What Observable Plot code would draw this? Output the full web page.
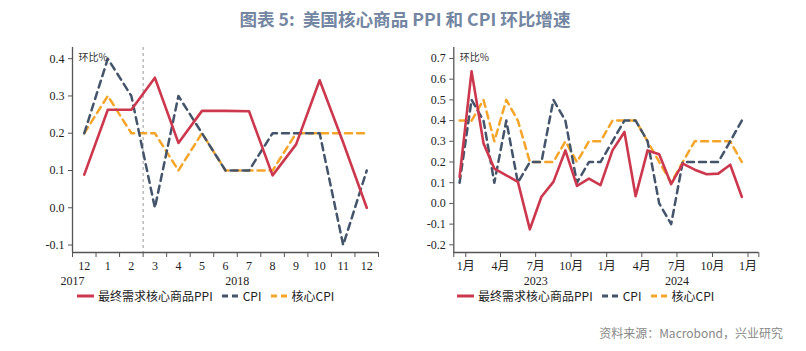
<!DOCTYPE html>
<html><head><meta charset="utf-8">
<script src="https://cdn.jsdelivr.net/npm/d3@7"></script>
<script src="https://cdn.jsdelivr.net/npm/@observablehq/plot@0.6"></script>
<style>
body{margin:0;background:#fff;}
#wrap{position:relative;width:806px;height:351px;overflow:hidden;font-family:"Noto Sans CJK SC",sans-serif;}
#title{position:absolute;left:2px;top:6px;width:806px;text-align:center;font-size:17.6px;font-weight:bold;color:#7386a2;}
.chart{position:absolute;top:0;}
.legend{position:absolute;top:289px;height:14px;line-height:14px;font-size:12px;display:flex;align-items:center;color:#222;white-space:nowrap;}
.legend svg{margin-right:4px;}
.legend span{margin-right:9px;}
#source{position:absolute;right:23px;top:324px;font-size:12px;color:#888;}
</style></head>
<body>
<div id="wrap">
  <div id="title">图表 5:&nbsp; 美国核心商品 PPI 和 CPI 环比增速</div>
  <div id="left" class="chart" style="left:0"></div>
  <div id="right" class="chart" style="left:400px"></div>
  <div id="legL" class="legend" style="left:77px"></div>
  <div id="legR" class="legend" style="left:457px"></div>
  <div id="source">资料来源：Macrobond，兴业研究</div>
</div>
<script>
// ---- Left panel data (Dec 2017 - Dec 2018) ----
const leftMonths = ["12","1","2","3","4","5","6","7","8","9","10","11","12"];
const leftYears = ["2017","2018","2018","2018","2018","2018","2018","2018","2018","2018","2018","2018","2018"];
const leftPPI  = [0.089,0.263,0.263,0.349,0.174,0.26,0.26,0.259,0.087,0.17,0.342,0.175,0.0];
const leftCPI  = [0.2,0.4,0.3,0.0,0.3,0.2,0.1,0.1,0.2,0.2,0.2,-0.1,0.1];
const leftCore = [0.2,0.3,0.2,0.2,0.1,0.2,0.1,0.1,0.1,0.2,0.2,0.2,0.2];
const leftYTicks = [-0.1,0.0,0.1,0.2,0.3,0.4];

// ---- Right panel data (Dec 2022 - Dec 2024) ----
const rightMonths = ["2022-12","2023-01","2023-02","2023-03","2023-04","2023-05","2023-06","2023-07","2023-08","2023-09","2023-10","2023-11","2023-12",
  "2024-01","2024-02","2024-03","2024-04","2024-05","2024-06","2024-07","2024-08","2024-09","2024-10","2024-11","2024-12"];
const rightPPI  = [0.128,0.638,0.29,0.168,0.136,0.104,-0.125,0.032,0.104,0.256,0.085,0.12,0.088,0.256,0.345,0.035,0.256,0.237,0.093,0.192,0.163,0.141,0.144,0.187,0.032];
const rightCPI  = [0.1,0.5,0.4,0.1,0.4,0.1,0.2,0.2,0.5,0.4,0.1,0.2,0.2,0.3,0.4,0.4,0.3,0.0,-0.1,0.2,0.2,0.2,0.2,0.3,0.4];
const rightCore = [0.4,0.4,0.5,0.3,0.5,0.4,0.2,0.2,0.2,0.3,0.2,0.3,0.3,0.4,0.4,0.4,0.3,0.2,0.1,0.2,0.3,0.3,0.3,0.3,0.2];
const rightXTicks = ["2023-01","2023-04","2023-07","2023-10","2024-01","2024-04","2024-07","2024-10","2025-01"];
const rightYearLabels = [["2023","2023-07"],["2024","2024-07"]];
const rightYTicks = [-0.2,-0.1,0.0,0.1,0.2,0.3,0.4,0.5,0.6,0.7];

const seriesNames = ["最终需求核心商品PPI","CPI","核心CPI"];
const colors = {ppi:"#cc384e", cpi:"#44546a", core:"#f5a52a"};
const axisColor = "#555";
const serif = "'Liberation Serif','Noto Sans CJK SC',serif";
const fmt = d => d.toFixed(1);

// ---------- Left chart ----------
{
  const idx = leftMonths.map((_, i) => i);
  const rows = k => idx.map(i => ({x: i, y: k[i]}));
  const bounds = [-0.5, ...idx.map(i => i + 0.5)];
  const years = [...new Set(leftYears)];
  const yearPos = years.map(y => {
    const ii = idx.filter(i => leftYears[i] === y);
    return ii.length > 1 ? (ii[0] + ii[ii.length-1]) / 2 : ii[0] - 0.5;
  });
  const splitAt = 2.5; // divider between Feb and Mar 2018
  const chart = Plot.plot({
    width: 400, height: 300,
    marginLeft: 72, marginRight: 22, marginTop: 47, marginBottom: 48,
    style: {fontFamily: serif, fontSize: "12px", color: "#222", background: "transparent"},
    x: {type: "linear", domain: [-0.5, 12.5], label: null},
    y: {domain: [-0.12, 0.43], label: null},
    marks: [
      Plot.ruleX([splitAt], {stroke: "#999", strokeDasharray: "3,3", strokeWidth: 1}),
      Plot.line(rows(leftCore), {x: "x", y: "y", stroke: colors.core, strokeWidth: 2.5, strokeDasharray: "7,5"}),
      Plot.line(rows(leftCPI), {x: "x", y: "y", stroke: colors.cpi, strokeWidth: 2.5, strokeDasharray: "7,5"}),
      Plot.line(rows(leftPPI), {x: "x", y: "y", stroke: colors.ppi, strokeWidth: 2.6}),
      Plot.ruleX([-0.5], {stroke: axisColor, strokeWidth: 1.3}),
      Plot.ruleY([-0.12], {stroke: axisColor, strokeWidth: 1.3}),
      Plot.axisY({ticks: leftYTicks, tickSize: 4, tickPadding: 4, tickFormat: fmt, stroke: axisColor, label: null}),
      Plot.axisX({ticks: bounds, tickSize: 5, tickFormat: () => "", stroke: axisColor, label: null}),
      Plot.axisX({ticks: idx, tickSize: 0, tickPadding: 9, tickFormat: i => leftMonths[i], label: null}),
      Plot.axisX({ticks: yearPos, tickSize: 0, tickPadding: 24, tickFormat: (d, i) => years[i], label: null}),
      Plot.text(["环比%"], {x: -0.5, y: 0.43, dx: 6, dy: 10, text: d => d, textAnchor: "start", fontSize: 10, fontFamily: "'Noto Sans CJK SC',sans-serif", fill: "#333"})
    ]
  });
  document.getElementById("left").appendChild(chart);
}

// ---------- Right chart ----------
{
  const parse = s => { const [y, m] = s.split("-").map(Number); return new Date(Date.UTC(y, m - 1, 16)); };
  const parseStart = s => { const [y, m] = s.split("-").map(Number); return new Date(Date.UTC(y, m - 1, 1)); };
  const rows = k => rightMonths.map((m, i) => ({x: parse(m), y: k[i]}));
  const tickDates = rightXTicks.map(parseStart);
  const domain = [parseStart(rightMonths[0]), new Date(Date.UTC(2025, 0, 29))];
  const chart = Plot.plot({
    width: 406, height: 300,
    marginLeft: 53.3, marginRight: 47.7, marginTop: 47, marginBottom: 48,
    style: {fontFamily: serif, fontSize: "12px", color: "#222", background: "transparent"},
    x: {type: "utc", domain, label: null},
    y: {domain: [-0.237, 0.753], label: null},
    marks: [
      Plot.line(rows(rightCore), {x: "x", y: "y", stroke: colors.core, strokeWidth: 2.5, strokeDasharray: "7,5"}),
      Plot.line(rows(rightCPI), {x: "x", y: "y", stroke: colors.cpi, strokeWidth: 2.5, strokeDasharray: "7,5"}),
      Plot.line(rows(rightPPI), {x: "x", y: "y", stroke: colors.ppi, strokeWidth: 2.6}),
      Plot.ruleX([domain[0]], {stroke: axisColor, strokeWidth: 1.3}),
      Plot.ruleY([-0.237], {stroke: axisColor, strokeWidth: 1.3}),
      Plot.axisY({ticks: rightYTicks, tickSize: 4, tickPadding: 4, tickFormat: fmt, stroke: axisColor, label: null}),
      Plot.axisX({ticks: [...domain, ...tickDates], tickSize: 5, tickFormat: () => "", stroke: axisColor, label: null}),
      Plot.axisX({ticks: tickDates, tickSize: 0, tickPadding: 9, tickFormat: d => (d.getUTCMonth() + 1) + "月", label: null}),
      Plot.axisX({ticks: rightYearLabels.map(d => parseStart(d[1])), tickSize: 0, tickPadding: 24, tickFormat: (d, i) => rightYearLabels[i][0], label: null}),
      Plot.text(["环比%"], {x: domain[0], y: 0.753, dx: 6, dy: 10, text: d => d, textAnchor: "start", fontSize: 10, fontFamily: "'Noto Sans CJK SC',sans-serif", fill: "#333"})
    ]
  });
  document.getElementById("right").appendChild(chart);
}

// ---------- Legends ----------
function legend(el) {
  const items = [
    {name: seriesNames[0], color: colors.ppi, dash: null},
    {name: seriesNames[1], color: colors.cpi, dash: "6,4"},
    {name: seriesNames[2], color: colors.core, dash: "6,4"}
  ];
  el.innerHTML = items.map(it =>
    `<svg width="17" height="10"><line x1="0" x2="17" y1="5" y2="5" stroke="${it.color}" stroke-width="3" ${it.dash ? `stroke-dasharray="${it.dash}"` : ""}/></svg><span>${it.name}</span>`
  ).join("");
}
legend(document.getElementById("legL"));
legend(document.getElementById("legR"));
</script>
</body></html>
